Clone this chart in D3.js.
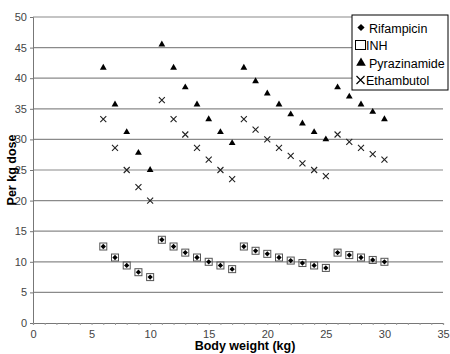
<!DOCTYPE html>
<html>
<head>
<meta charset="utf-8">
<title>Per kg dose by body weight</title>
<script src="https://cdnjs.cloudflare.com/ajax/libs/d3/7.8.5/d3.min.js"></script>
<style>
  body { margin: 0; background: #fff; }
  svg { font-family: Arial, "Liberation Sans", sans-serif; }
</style>
</head>
<body>
<div id="chart"></div>
<script>
// body weight (kg) for every point
var weights = [6, 7, 8, 9, 10, 11, 12, 13, 14, 15, 16, 17, 18, 19, 20, 21, 22, 23, 24, 25, 26, 27, 28, 29, 30];

// per kg dose
var rifampicin = [12.5, 10.7, 9.4, 8.3, 7.5, 13.6, 12.5, 11.5, 10.7, 10.0, 9.4, 8.8, 12.5, 11.8, 11.3, 10.7, 10.2, 9.8, 9.4, 9.0, 11.5, 11.1, 10.7, 10.3, 10.0];
var inh = [12.5, 10.7, 9.4, 8.3, 7.5, 13.6, 12.5, 11.5, 10.7, 10.0, 9.4, 8.8, 12.5, 11.8, 11.3, 10.7, 10.2, 9.8, 9.4, 9.0, 11.5, 11.1, 10.7, 10.3, 10.0];
var pyrazinamide = [41.7, 35.7, 31.2, 27.8, 25.0, 45.5, 41.7, 38.5, 35.7, 33.3, 31.2, 29.4, 41.7, 39.5, 37.5, 35.7, 34.1, 32.6, 31.2, 30.0, 38.5, 37.0, 35.7, 34.5, 33.3];
var ethambutol = [33.3, 28.6, 25.0, 22.2, 20.0, 36.4, 33.3, 30.8, 28.6, 26.7, 25.0, 23.5, 33.3, 31.6, 30.0, 28.6, 27.3, 26.1, 25.0, 24.0, 30.8, 29.6, 28.6, 27.6, 26.7];

var seriesNames = ["Rifampicin", "INH", "Pyrazinamide", "Ethambutol"];
var xTicks = [0, 5, 10, 15, 20, 25, 30, 35];
var yTicks = [0, 5, 10, 15, 20, 25, 30, 35, 40, 45, 50];

var width = 450, height = 354;
var svg = d3.select("#chart").append("svg")
    .attr("width", width)
    .attr("height", height);

var x = d3.scaleLinear().domain([0, 35]).range([33, 443]);
var y = d3.scaleLinear().domain([0, 50]).range([323, 17]);

// horizontal gridlines
svg.append("g").selectAll("line")
    .data(yTicks.slice(1))
    .enter().append("line")
    .attr("x1", x(0)).attr("x2", x(35))
    .attr("y1", function (d) { return y(d); })
    .attr("y2", function (d) { return y(d); })
    .attr("stroke", "#8a8a8a")
    .attr("stroke-width", 1.2);

// y axis
var yAxis = svg.append("g")
    .attr("transform", "translate(" + x(0) + ",0)")
    .call(d3.axisLeft(y).tickValues(yTicks).tickSize(3).tickPadding(3));
yAxis.select(".domain").attr("stroke", "#777");
yAxis.selectAll(".tick line").attr("stroke", "#777");
yAxis.selectAll("text").attr("font-size", 11).attr("fill", "#444")
    .attr("font-family", "Arial, 'Liberation Sans', sans-serif");

// x axis: minor ticks each kg, labels every 5
var xAxis = svg.append("g")
    .attr("transform", "translate(0," + y(0) + ")")
    .call(d3.axisBottom(x).tickValues(d3.range(0, 36)).tickSize(2)
        .tickFormat(function (d) { return xTicks.indexOf(d) >= 0 ? d : ""; })
        .tickPadding(5));
xAxis.select(".domain").attr("stroke", "#777").attr("stroke-width", 1.2);
xAxis.selectAll(".tick line").attr("stroke", "#999");
xAxis.selectAll("text").attr("font-size", 11).attr("fill", "#444")
    .attr("font-family", "Arial, 'Liberation Sans', sans-serif");

// axis titles
svg.append("text")
    .attr("x", 245).attr("y", 350)
    .attr("text-anchor", "middle")
    .attr("font-size", 12.5).attr("font-weight", "bold")
    .text("Body weight (kg)");

svg.append("text")
    .attr("transform", "translate(16,170) rotate(-90)")
    .attr("text-anchor", "middle")
    .attr("font-size", 12.5).attr("font-weight", "bold")
    .text("Per kg dose");

var pts = function (vals) {
    return vals.map(function (v, i) { return { w: weights[i], v: v }; });
};

var diamond = d3.symbol().type(d3.symbolSquare).size(14);
var tri = d3.symbol().type(d3.symbolTriangle).size(20);
var crossPath = "M-3,-3L3,3M-3,3L3,-3";

function tr(d) { return "translate(" + x(d.w) + "," + y(d.v) + ")"; }

svg.append("g").selectAll("path")
    .data(pts(rifampicin)).enter().append("path")
    .attr("d", diamond)
    .attr("transform", function (d) { return tr(d) + " rotate(45)"; })
    .attr("fill", "#000");

svg.append("g").selectAll("rect")
    .data(pts(inh)).enter().append("rect")
    .attr("x", function (d) { return x(d.w) - 3.5; })
    .attr("y", function (d) { return y(d.v) - 3.5; })
    .attr("width", 7).attr("height", 7)
    .attr("fill", "none").attr("stroke", "#555").attr("stroke-width", 1);

svg.append("g").selectAll("path")
    .data(pts(pyrazinamide)).enter().append("path")
    .attr("d", tri).attr("transform", tr).attr("fill", "#000");

svg.append("g").selectAll("path")
    .data(pts(ethambutol)).enter().append("path")
    .attr("d", crossPath).attr("transform", tr)
    .attr("fill", "none").attr("stroke", "#222").attr("stroke-width", 1.1);

// legend
var lg = svg.append("g").attr("transform", "translate(352,15)");
lg.append("rect")
    .attr("width", 96).attr("height", 75)
    .attr("fill", "#fff").attr("stroke", "#000").attr("stroke-width", 1);

var items = lg.selectAll("g.item")
    .data(seriesNames).enter().append("g")
    .attr("class", "item")
    .attr("transform", function (d, i) { return "translate(0," + (13 + i * 17.5) + ")"; });

items.each(function (d, i) {
    var g = d3.select(this);
    if (i === 0) g.append("path").attr("d", d3.symbol().type(d3.symbolSquare).size(26))
        .attr("transform", "translate(9,-0.5) rotate(45)");
    if (i === 1) g.append("rect").attr("x", 3.5).attr("y", -5).attr("width", 10).attr("height", 9)
        .attr("fill", "none").attr("stroke", "#000");
    if (i === 2) g.append("path").attr("d", d3.symbol().type(d3.symbolTriangle).size(40)).attr("transform", "translate(9,0)");
    if (i === 3) g.append("path").attr("d", "M-4,-4L4,4M-4,4L4,-4").attr("transform", "translate(8.5,-0.5)")
        .attr("fill", "none").attr("stroke", "#000").attr("stroke-width", 1.2);
    g.append("text")
        .attr("x", i === 1 || i === 3 ? 14 : 17).attr("y", 4.5)
        .attr("font-size", 12.5)
        .text(d);
});
</script>
</body>
</html>
